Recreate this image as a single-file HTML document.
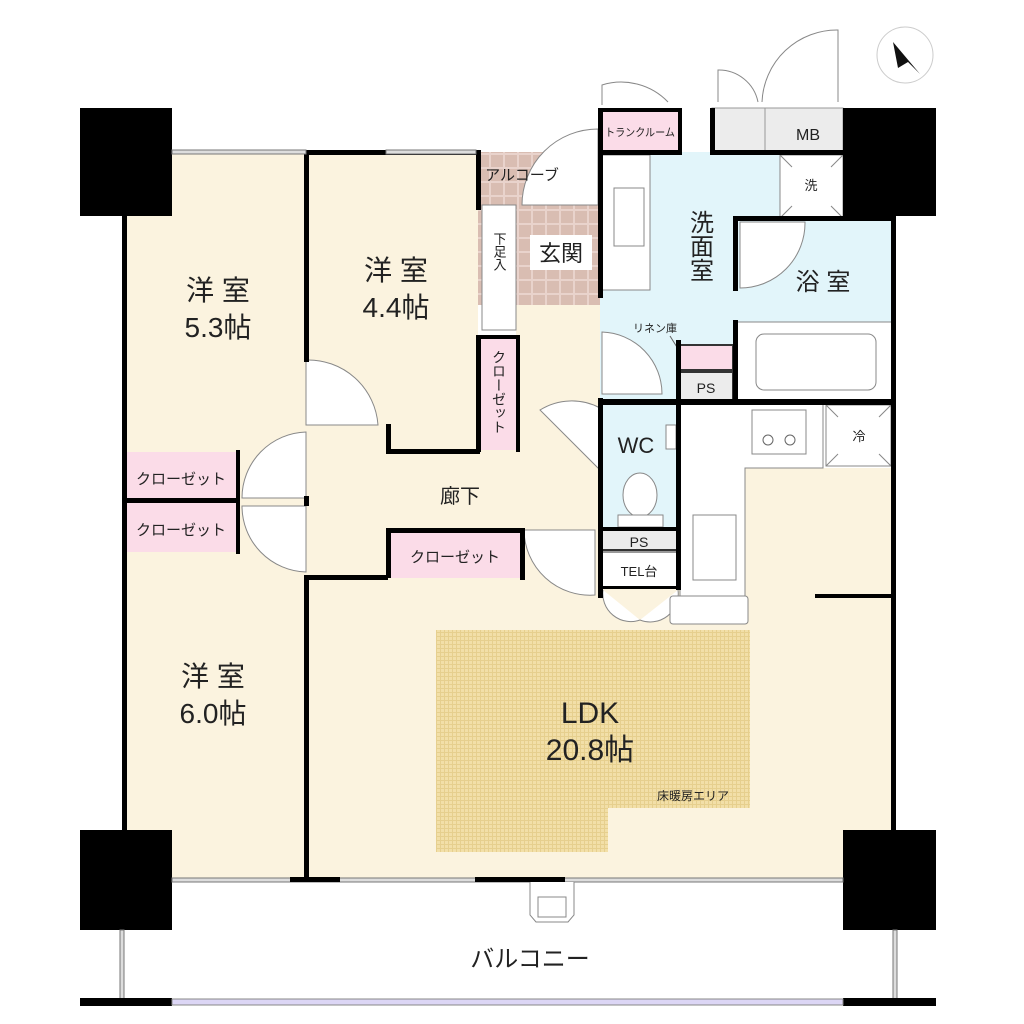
<!DOCTYPE html>
<html><head><meta charset="utf-8"><style>
html,body{margin:0;padding:0;background:#fff}
svg{display:block}
text{font-family:"Liberation Sans","Noto Sans CJK JP",sans-serif;fill:#222}
</style></head><body>
<svg width="1024" height="1024" viewBox="0 0 1024 1024" xmlns="http://www.w3.org/2000/svg">
<defs>
<pattern id="tile" width="14" height="14" patternUnits="userSpaceOnUse">
<rect width="14" height="14" fill="#e9d3cc"/><rect x="1" y="1" width="12" height="12" fill="#d9bdb2"/>
</pattern>
<pattern id="heat" width="4" height="4" patternUnits="userSpaceOnUse">
<rect width="4" height="4" fill="#f2dfa8"/><rect width="4" height="1" fill="#e6cf8e"/><rect width="1" height="4" fill="#e6cf8e"/>
</pattern>
</defs>
<!-- cream floors -->
<rect x="124" y="152" width="184" height="728" fill="#fbf3df"/>
<rect x="306" y="152" width="172" height="300" fill="#fbf3df"/>
<rect x="306" y="420" width="296" height="160" fill="#fbf3df"/>
<rect x="306" y="578" width="588" height="302" fill="#fbf3df"/>
<rect x="516" y="305" width="86" height="120" fill="#fbf3df"/>
<rect x="745" y="468" width="148" height="120" fill="#fbf3df"/>
<!-- genkan -->
<rect x="478" y="152" width="122" height="153" fill="url(#tile)"/>
<rect x="482" y="205" width="34" height="125" fill="#fff" stroke="#888" stroke-width="1"/>
<rect x="530" y="235" width="62" height="35" fill="#fff"/>
<path d="M522 205 A76 76 0 0 1 598 129 L598 205 Z" fill="#fff" stroke="#888"/>
<!-- wash room -->
<rect x="600" y="152" width="180" height="250" fill="#e2f5fa"/>
<rect x="735" y="218" width="158" height="184" fill="#e2f5fa"/>
<rect x="600" y="155" width="50" height="135" fill="#fff" stroke="#888"/>
<rect x="614" y="188" width="30" height="58" fill="#fff" stroke="#888"/>
<rect x="780" y="155" width="63" height="63" fill="#fff" stroke="#888"/>
<path d="M780 155 l12 12 M843 155 l-12 12 M780 218 l12 -12 M843 218 l-12 -12" stroke="#888"/>
<text x="811" y="190" font-size="13" text-anchor="middle">洗</text>
<rect x="737" y="322" width="156" height="78" fill="#fff" stroke="#888"/>
<rect x="756" y="334" width="120" height="56" rx="8" fill="#fff" stroke="#888"/>
<path d="M740 222 L805 222 A65 65 0 0 1 740 288 Z" fill="#fff" stroke="#888"/>
<path d="M602 332 A62 62 0 0 1 662 394 L602 394 Z" fill="#fff" stroke="#888"/>
<rect x="680" y="345" width="53" height="25" fill="#fbdce8" stroke="#333" stroke-width="2"/>
<rect x="680" y="372" width="53" height="28" fill="#ececec" stroke="#333" stroke-width="2"/>
<text x="706" y="393" font-size="14" text-anchor="middle">PS</text>
<text x="655" y="332" font-size="11" text-anchor="middle">リネン庫</text>
<path d="M670 336 L680 352" stroke="#666"/>
<!-- WC -->
<rect x="600" y="402" width="78" height="126" fill="#e2f5fa"/>
<ellipse cx="640" cy="495" rx="17" ry="22" fill="#fff" stroke="#888"/>
<rect x="618" y="515" width="45" height="12" fill="#fff" stroke="#888"/>
<rect x="666" y="425" width="10" height="24" fill="#fff" stroke="#888"/>
<rect x="600" y="530" width="78" height="20" fill="#ececec" stroke="#333" stroke-width="2"/>
<text x="639" y="547" font-size="14" text-anchor="middle">PS</text>
<rect x="600" y="552" width="78" height="35" fill="#fff" stroke="#333" stroke-width="1"/>
<text x="639" y="576" font-size="13" text-anchor="middle">TEL台</text>
<path d="M603 590 A28 28 0 0 0 640 620 M678 590 A28 28 0 0 1 640 620" stroke="#888" fill="#fff"/>
<!-- kitchen -->
<path d="M680 402 L823 402 L823 468 L745 468 L745 600 L680 600 Z" fill="#fff" stroke="#888"/>
<rect x="752" y="410" width="54" height="44" fill="#fff" stroke="#888"/>
<circle cx="768" cy="440" r="5" fill="#fff" stroke="#666"/><circle cx="790" cy="440" r="5" fill="#fff" stroke="#666"/>
<rect x="693" y="515" width="43" height="65" fill="#fff" stroke="#888"/>
<rect x="670" y="596" width="78" height="28" rx="3" fill="#fff" stroke="#888"/>
<rect x="826" y="405" width="65" height="61" fill="#fff" stroke="#888"/>
<path d="M826 405 l12 12 M891 405 l-12 12 M826 466 l12 -12 M891 466 l-12 -12" stroke="#888"/>
<text x="859" y="441" font-size="13" text-anchor="middle">冷</text>
<!-- top pink & MB -->
<rect x="600" y="108" width="80" height="44" fill="#fbdce8"/>
<text x="640" y="136" font-size="11" text-anchor="middle" textLength="70" lengthAdjust="spacingAndGlyphs">トランクルーム</text>
<rect x="712" y="108" width="131" height="44" fill="#ececec" stroke="#999"/>
<line x1="765" y1="108" x2="765" y2="152" stroke="#999"/>
<text x="808" y="140" font-size="16" text-anchor="middle">MB</text>
<path d="M602 105 L602 85 A65 65 0 0 1 668 102" fill="none" stroke="#888"/>
<path d="M718 102 L718 70 A40 40 0 0 1 758 102 M762 102 A75 75 0 0 1 838 30 L838 102" fill="none" stroke="#888"/>
<!-- closets -->
<rect x="124" y="452" width="112" height="48" fill="#fbdce8"/>
<rect x="124" y="503" width="112" height="49" fill="#fbdce8"/>
<rect x="388" y="530" width="134" height="48" fill="#fbdce8"/>
<rect x="480" y="337" width="38" height="113" fill="#fbdce8"/>
<text x="181" y="484" font-size="15" text-anchor="middle">クローゼット</text>
<text x="181" y="535" font-size="15" text-anchor="middle">クローゼット</text>
<text x="455" y="562" font-size="15" text-anchor="middle">クローゼット</text>
<text x="499" y="350" font-size="14" writing-mode="tb">クローゼット</text>
<!-- doors -->
<path d="M306 360 A70 70 0 0 1 378 425 L306 425 Z" fill="#fff" stroke="#888"/>
<path d="M306 432 A66 66 0 0 0 242 498 L306 498 Z" fill="#fff" stroke="#888"/>
<path d="M306 572 A66 66 0 0 1 242 506 L306 506 Z" fill="#fff" stroke="#888"/>
<path d="M600 408 A60 60 0 0 0 540 410 L600 470 Z" fill="#fff" stroke="#888"/>
<path d="M524 530 A66 66 0 0 0 595 595 L595 530 Z" fill="#fff" stroke="#888"/>
<!-- floor heating -->
<path d="M436 630 L750 630 L750 808 L608 808 L608 852 L436 852 Z" fill="url(#heat)"/>
<text x="693" y="800" font-size="12" text-anchor="middle">床暖房エリア</text>
<!-- walls -->
<g fill="#000">
<rect x="80" y="108" width="92" height="108"/><rect x="843" y="108" width="93" height="108"/>
<rect x="80" y="830" width="92" height="100"/><rect x="843" y="830" width="93" height="100"/>
<rect x="122" y="216" width="5" height="236"/><rect x="122" y="552" width="5" height="278"/>
<rect x="122" y="450" width="5" height="104"/>
<rect x="304" y="152" width="5" height="210"/><rect x="304" y="575" width="5" height="305"/>
<rect x="304" y="496" width="5" height="10"/>
<rect x="124" y="498" width="114" height="5"/>
<rect x="236" y="450" width="4" height="104"/>
<rect x="306" y="150" width="172" height="5"/>
<rect x="476" y="150" width="5" height="60"/><rect x="476" y="335" width="5" height="117"/>
<rect x="386" y="424" width="5" height="30"/><rect x="386" y="449" width="94" height="5"/>
<rect x="480" y="335" width="40" height="4"/><rect x="516" y="335" width="4" height="117"/>
<rect x="306" y="575" width="82" height="5"/>
<rect x="386" y="528" width="138" height="5"/><rect x="386" y="528" width="5" height="50"/><rect x="520" y="528" width="5" height="52"/>
<rect x="598" y="108" width="5" height="190"/><rect x="598" y="398" width="5" height="200"/>
<rect x="598" y="108" width="82" height="4"/><rect x="678" y="108" width="4" height="44"/>
<rect x="598" y="150" width="84" height="5"/>
<rect x="710" y="108" width="5" height="47"/><rect x="712" y="150" width="135" height="5"/>
<rect x="733" y="216" width="162" height="5"/><rect x="733" y="216" width="5" height="75"/><rect x="733" y="320" width="5" height="84"/>
<rect x="598" y="399" width="297" height="6"/>
<rect x="676" y="340" width="5" height="250"/>
<rect x="891" y="216" width="5" height="614"/>
<rect x="598" y="527" width="82" height="4"/>
<rect x="815" y="594" width="78" height="4"/>
<rect x="598" y="586" width="82" height="3"/>
</g>
<!-- window lines -->
<g stroke="#777" stroke-width="1" fill="#ddd">
<rect x="172" y="150" width="134" height="4"/><rect x="386" y="150" width="90" height="4"/>
<rect x="172" y="878" width="134" height="4"/><rect x="306" y="878" width="537" height="4"/>
<rect x="120" y="930" width="4" height="72"/><rect x="893" y="930" width="4" height="72"/>
</g>
<rect x="290" y="877" width="50" height="5" fill="#000"/>
<rect x="475" y="877" width="90" height="5" fill="#000"/>
<rect x="80" y="998" width="92" height="8" fill="#000"/><rect x="843" y="998" width="93" height="8" fill="#000"/>
<rect x="172" y="999" width="671" height="6" fill="#dcd6f5" stroke="#888"/>
<path d="M530 882 L530 915 L536 922 L568 922 L574 915 L574 882" fill="#fff" stroke="#888"/>
<rect x="538" y="897" width="28" height="20" fill="#fff" stroke="#888"/>
<!-- compass -->
<circle cx="905" cy="55" r="28" fill="#fff" stroke="#ccc"/>
<path d="M893 42 L920 74 L908 62 L898 68 Z" fill="#111"/>
<!-- labels -->
<text x="218" y="300" font-size="28" text-anchor="middle">洋 室</text>
<text x="218" y="337" font-size="28" text-anchor="middle">5.3帖</text>
<text x="396" y="280" font-size="28" text-anchor="middle">洋 室</text>
<text x="396" y="317" font-size="28" text-anchor="middle">4.4帖</text>
<text x="213" y="686" font-size="28" text-anchor="middle">洋 室</text>
<text x="213" y="723" font-size="28" text-anchor="middle">6.0帖</text>
<text x="590" y="723" font-size="30" text-anchor="middle">LDK</text>
<text x="590" y="760" font-size="30" text-anchor="middle">20.8帖</text>
<text x="460" y="503" font-size="20" text-anchor="middle">廊下</text>
<text x="561" y="261" font-size="22" text-anchor="middle">玄関</text>
<text x="522" y="180" font-size="15" text-anchor="middle">アルコーブ</text>
<text x="499" y="232" font-size="13" writing-mode="tb">下足入</text>
<text x="699" y="210" font-size="24" writing-mode="tb">洗面室</text>
<text x="823" y="290" font-size="24" text-anchor="middle">浴 室</text>
<text x="636" y="453" font-size="22" text-anchor="middle">WC</text>
<text x="530" y="967" font-size="24" text-anchor="middle">バルコニー</text>
</svg>
</body></html>
